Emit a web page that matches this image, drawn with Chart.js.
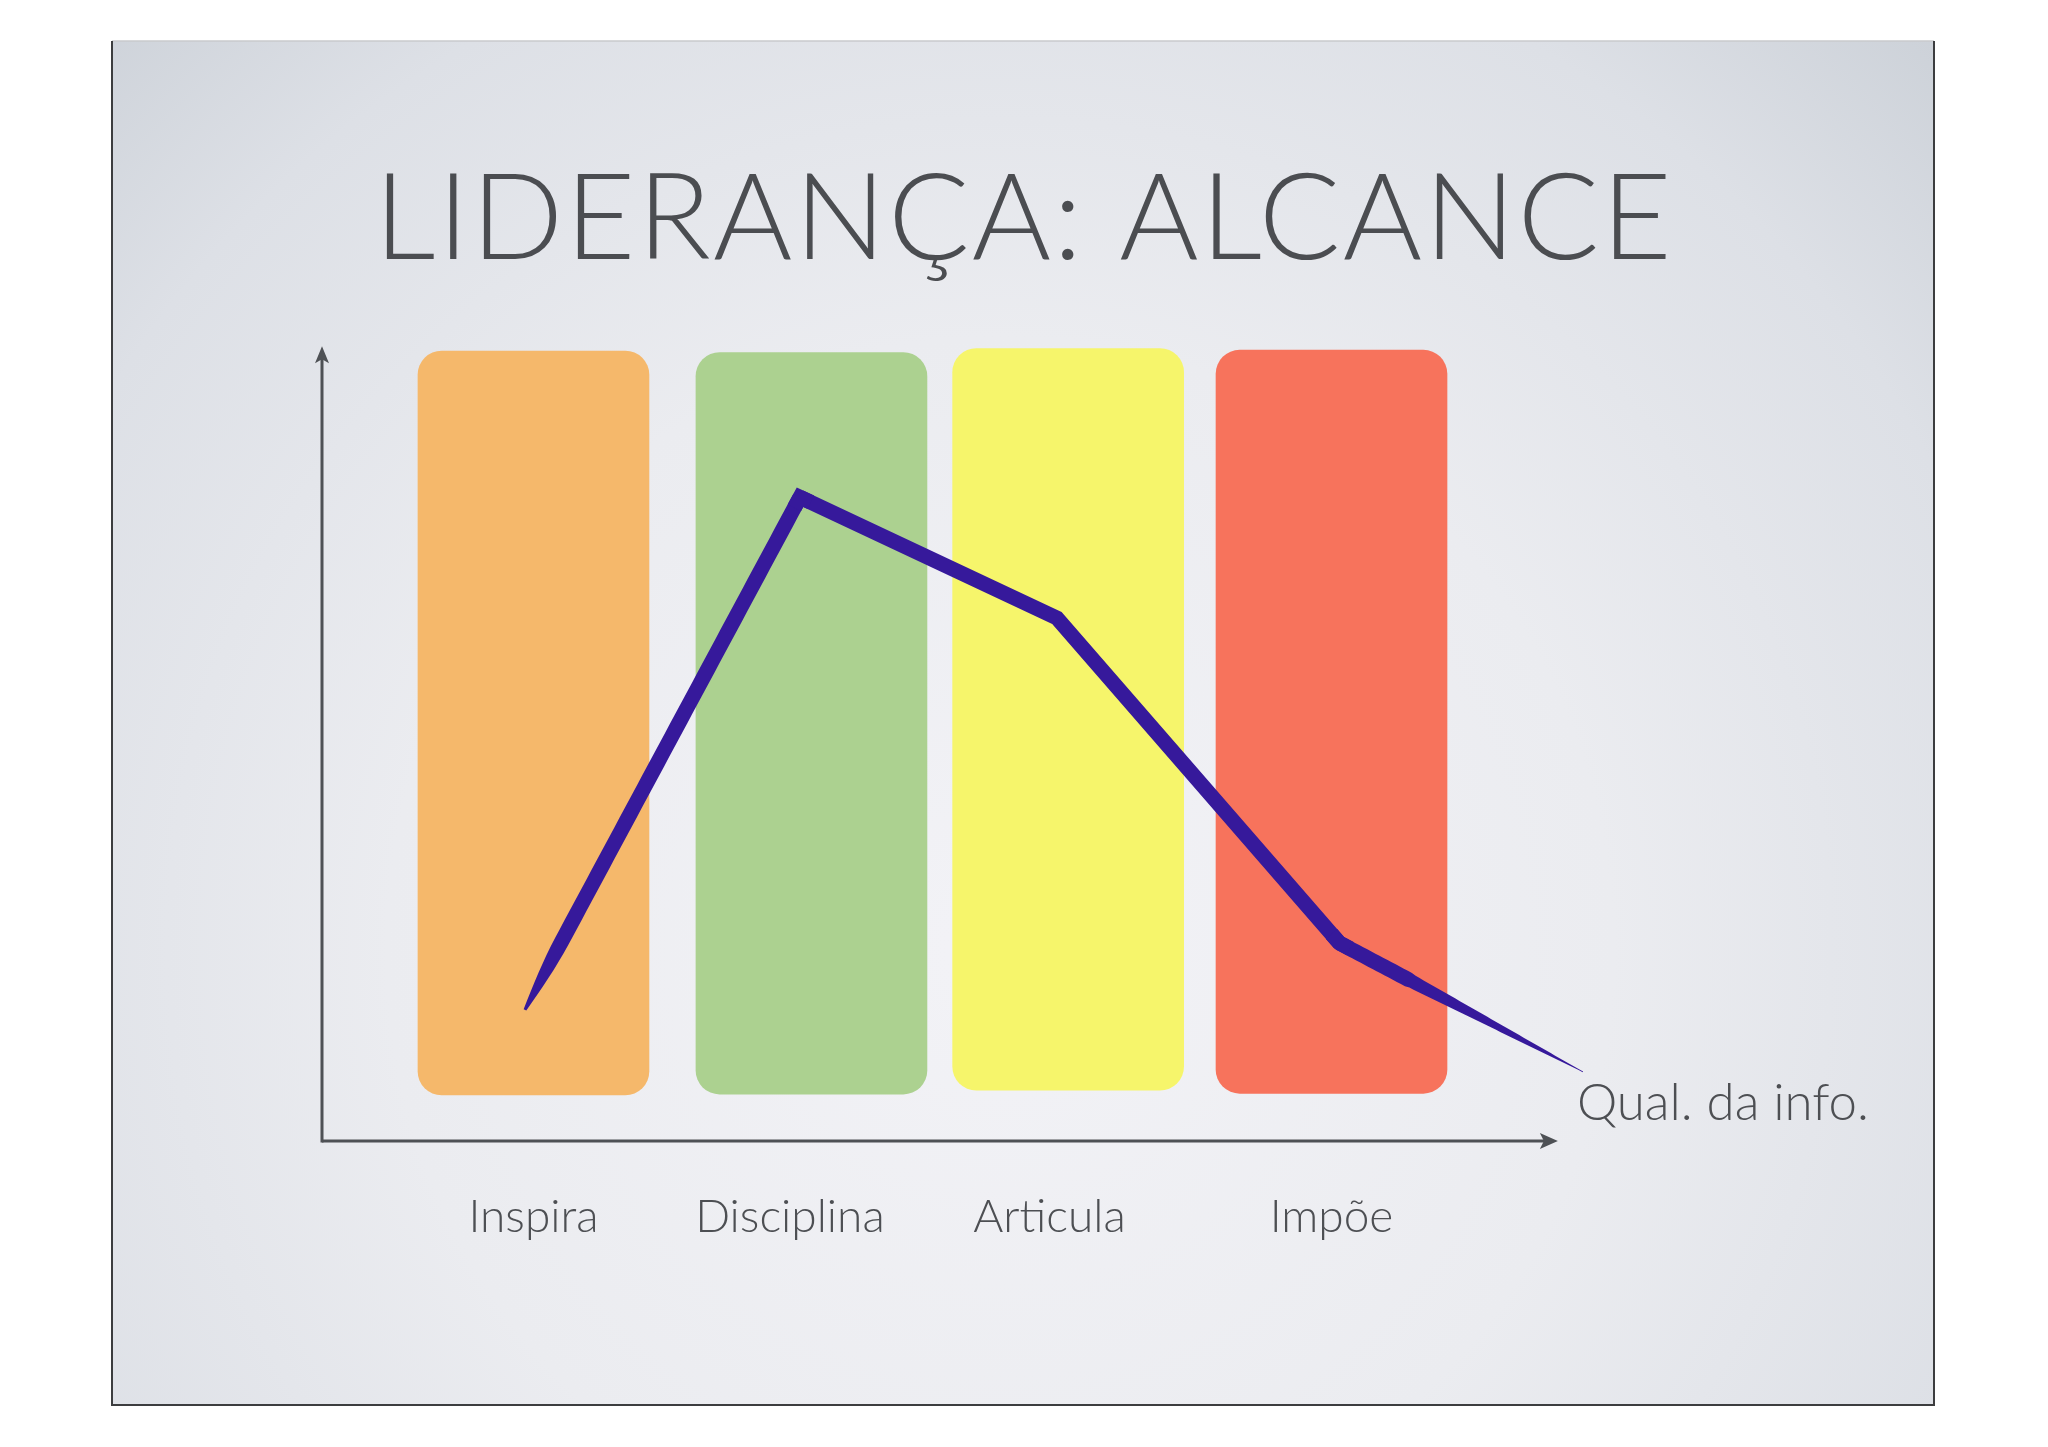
<!DOCTYPE html>
<html><head><meta charset="utf-8">
<script src="https://cdn.jsdelivr.net/npm/chart.js@4.4.1/dist/chart.umd.min.js"></script>
<style>html,body{margin:0;padding:0;background:#fff;overflow:hidden}</style>
</head><body>
<canvas id="c" width="2048" height="1447"></canvas>
<script>
// ---- data ----
const titleText = 'LIDERANÇA: ALCANCE';
const categories = ['Inspira', 'Disciplina', 'Articula', 'Impõe'];
const barX = [1, 2.045, 3.01, 4.0];
const barLow = [5.8, 5.9, 6.4, 6.0];
const barHigh = [99.4, 99.2, 99.7, 99.5];
const labelX = [1, 1.964, 2.94, 4.0];
const lineX = [0.968, 2.002, 2.968, 4.03, 4.945];
const lineY = [16.5, 81.0, 65.8, 24.9, 8.7];
const axisTitle = 'Qual. da info.';
const xMin = 0.205, xMax = 5.483, xAxisEnd = 4.851, yMin = 0, yMax = 100;

// ---- styles ----
const barColors = ['#f5b86b', '#acd190', '#f6f56b', '#f7735c'];
const lineColor = '#36199b';
const lineW = 15;
const textColor = '#4d4f53';
const axisColor = '#4e5155';

const bgPlugin = {
  id: 'bg',
  beforeDraw(chart) {
    const ctx = chart.ctx;
    ctx.save();
    ctx.fillStyle = '#ffffff';
    ctx.fillRect(0, 0, chart.width, chart.height);
    const L = 112, T = 41, R = 1934, B = 1405;
    const g = ctx.createRadialGradient(1000, 950, 50, 1000, 950, 1300);
    g.addColorStop(0, '#f2f2f6');
    g.addColorStop(0.45, '#ebecf0');
    g.addColorStop(0.8, '#dde0e6');
    g.addColorStop(1, '#cdd2d9');
    ctx.fillStyle = g;
    ctx.fillRect(L, T, R - L, B - T);
    ctx.strokeStyle = '#c9cacc';
    ctx.lineWidth = 1.5;
    ctx.beginPath(); ctx.moveTo(L, T); ctx.lineTo(R, T); ctx.stroke();
    ctx.strokeStyle = '#3c3d3f';
    ctx.lineWidth = 2;
    ctx.beginPath(); ctx.moveTo(L, T); ctx.lineTo(L, B); ctx.lineTo(R, B); ctx.lineTo(R, T); ctx.stroke();
    ctx.restore();
    ctx.letterSpacing = '2.1px'; // title spacing (Gill Sans is wider than Lato)
  },
  beforeDatasetsDraw(chart) {
    chart.ctx.letterSpacing = '0px';
  }
};

const axesPlugin = {
  id: 'axes',
  beforeDatasetsDraw(chart) {
    const ctx = chart.ctx, xs = chart.scales.x, ys = chart.scales.y;
    const x0 = xs.getPixelForValue(xMin), x1 = xs.getPixelForValue(xAxisEnd);
    const y0 = ys.getPixelForValue(yMin), y1 = ys.getPixelForValue(yMax);
    ctx.save();
    ctx.letterSpacing = '0px';
    ctx.strokeStyle = axisColor; ctx.fillStyle = axisColor; ctx.lineWidth = 3;
    ctx.beginPath(); ctx.moveTo(x0, y0); ctx.lineTo(x1 - 10, y0); ctx.stroke();
    ctx.beginPath(); ctx.moveTo(x0, y0 + 1.5); ctx.lineTo(x0, y1 + 10); ctx.stroke();
    // arrowheads
    ctx.beginPath(); ctx.moveTo(x1, y0); ctx.lineTo(x1 - 18, y0 - 8); ctx.lineTo(x1 - 14, y0); ctx.lineTo(x1 - 18, y0 + 8); ctx.closePath(); ctx.fill();
    ctx.beginPath(); ctx.moveTo(x0, y1); ctx.lineTo(x0 - 7, y1 + 17); ctx.lineTo(x0, y1 + 13); ctx.lineTo(x0 + 7, y1 + 17); ctx.closePath(); ctx.fill();
    // category labels
    ctx.font = '300 46px Lato';
    ctx.fillStyle = textColor; ctx.textAlign = 'center'; ctx.textBaseline = 'alphabetic';
    categories.forEach((c, i) => ctx.fillText(c, xs.getPixelForValue(labelX[i]), y0 + 91));
    // axis title
    ctx.font = '300 51px Lato';
    ctx.textAlign = 'left';
    ctx.fillText(axisTitle, x1 + 19, y0 - 21);
    ctx.restore();
  }
};

function taper(ctx, a, b, widthAt) {
  const dx = b.x - a.x, dy = b.y - a.y, len = Math.hypot(dx, dy);
  const nx = -dy / len, ny = dx / len;
  const N = 60, left = [], right = [];
  for (let i = 0; i <= N; i++) {
    const t = i / N, w = widthAt(t) / 2;
    const px = a.x + dx * t, py = a.y + dy * t;
    left.push([px + nx * w, py + ny * w]);
    right.push([px - nx * w, py - ny * w]);
  }
  ctx.beginPath();
  ctx.moveTo(left[0][0], left[0][1]);
  left.forEach(p => ctx.lineTo(p[0], p[1]));
  for (let i = right.length - 1; i >= 0; i--) ctx.lineTo(right[i][0], right[i][1]);
  ctx.closePath();
  ctx.fill();
}
function join(ctx, a, p, b) {
  const k1 = 12 / Math.hypot(a.x - p.x, a.y - p.y), k2 = 12 / Math.hypot(b.x - p.x, b.y - p.y);
  ctx.beginPath();
  ctx.moveTo(p.x + (a.x - p.x) * k1, p.y + (a.y - p.y) * k1);
  ctx.lineTo(p.x, p.y);
  ctx.lineTo(p.x + (b.x - p.x) * k2, p.y + (b.y - p.y) * k2);
  ctx.stroke();
}
const taperPlugin = {
  id: 'taper',
  afterDatasetsDraw(chart) {
    const pts = chart.getDatasetMeta(1).data;
    const n = pts.length;
    const ctx = chart.ctx;
    ctx.save();
    ctx.fillStyle = lineColor; ctx.strokeStyle = lineColor;
    ctx.lineWidth = lineW; ctx.lineJoin = 'miter'; ctx.miterLimit = 10; ctx.lineCap = 'butt';
    taper(ctx, pts[0], pts[1], t => lineW * (0.2 + 0.8 * Math.sin(Math.PI / 2 * Math.min(1, t / 0.14))));
    taper(ctx, pts[n - 2], pts[n - 1], t => t < 0.3 ? lineW : Math.max(0.8, lineW * (1 - (t - 0.3) / 0.7) * 0.85 + 0.6));
    join(ctx, pts[0], pts[1], pts[2]);
    join(ctx, pts[n - 3], pts[n - 2], pts[n - 1]);
    ctx.restore();
  }
};

new Chart(document.getElementById('c'), {
  data: {
    datasets: [
      {
        type: 'bar', label: 'Estilos',
        data: categories.map((c, i) => ({ x: barX[i], y: [barLow[i], barHigh[i]] })),
        backgroundColor: barColors, borderRadius: 24, borderSkipped: false,
        barThickness: 231, order: 2
      },
      {
        type: 'line', label: axisTitle,
        data: lineX.map((x, i) => ({ x: x, y: lineY[i] })),
        borderColor: lineColor, borderWidth: lineW, pointRadius: 0, tension: 0,
        borderJoinStyle: 'miter', clip: false, order: 1,
        segment: {
          borderColor: c => (c.p0DataIndex === 0 || c.p1DataIndex === lineX.length - 1) ? 'rgba(0,0,0,0)' : undefined
        }
      }
    ]
  },
  options: {
    responsive: false, animation: false, devicePixelRatio: 1,
    layout: { padding: { left: 322, right: 322, top: 0, bottom: 306 } },
    scales: {
      x: { type: 'linear', min: xMin, max: xMax, offset: false, display: false },
      y: { type: 'linear', min: yMin, max: yMax, display: false }
    },
    plugins: {
      legend: { display: false },
      tooltip: { enabled: false },
      title: {
        display: true, text: titleText, color: '#4b4d51',
        font: { family: 'Lato', size: 121, weight: '300', lineHeight: 1.2 },
        padding: { top: 147, bottom: 54 }
      }
    }
  },
  plugins: [bgPlugin, axesPlugin, taperPlugin]
});
</script>
</body></html>
